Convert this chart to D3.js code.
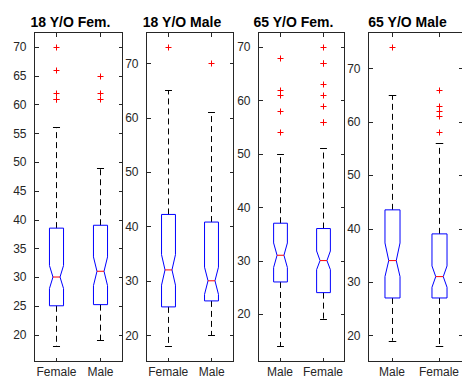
<!DOCTYPE html>
<html>
<head>
<meta charset="utf-8">
<script src="https://cdn.jsdelivr.net/npm/d3@7"></script>
<style>
  html, body { margin: 0; padding: 0; background: #ffffff; }
  svg { display: block; font-family: "Liberation Sans", Arial, Helvetica, sans-serif; }
</style>
</head>
<body>
<svg id="chart" width="462" height="378"></svg>
<script>
// ---------- data ----------
const titles = ["18 Y/O Fem.", "18 Y/O Male", "65 Y/O Fem.", "65 Y/O Male"];
const groupLabels = [["Female", "Male"], ["Female", "Male"], ["Male", "Female"], ["Male", "Female"]];
const whiskerLow  = [[18, 19],     [18, 20],     [14, 19],     [19, 18]];
const q1          = [[25, 25.2],   [25.2, 26.3], [26, 24],     [27, 27]];
const notchLow    = [[28, 28.5],   [29.2, 27.5], [28.7, 28.3], [31, 29]];
const medians     = [[30, 31],     [32, 30],     [31, 30],     [34, 31]];
const notchHigh   = [[32, 33.5],   [34.8, 32.5], [33.3, 31.8], [37.3, 33]];
const q3          = [[38.5, 39],   [42.2, 40.8], [37, 36],     [43.5, 39]];
const whiskerHigh = [[56, 49],     [65, 61],     [50, 51],     [65, 56]];
const outliers = [
  [[61, 61, 62, 66, 70], [61, 62, 65]],
  [[73], [70]],
  [[54, 58, 61, 62, 68], [56, 56, 59, 61, 63, 67, 67, 70]],
  [[74], [58, 61, 62, 63, 66]]
];
const yTicks = [
  [20, 25, 30, 35, 40, 45, 50, 55, 60, 65, 70],
  [20, 30, 40, 50, 60, 70],
  [20, 30, 40, 50, 60, 70],
  [20, 30, 40, 50, 60, 70]
];

// ---------- layout ----------
const panelLeft  = [34, 146, 258, 368];
const panelRight = [122, 233, 344, 462];
const plotTop = 32, plotBottom = 361;
const axisColor = "#262626";

const svg = d3.select("#chart");

titles.forEach((title, p) => {
  const L = panelLeft[p], R = panelRight[p];
  const g = svg.append("g");

  const x = d3.scaleLinear().domain([0.5, 2.5]).range([L, R]);
  const allVals = whiskerLow[p].concat(whiskerHigh[p], outliers[p].flat());
  const lo = d3.min(allVals), hi = d3.max(allVals);
  const pad = (hi - lo) * 0.05;
  const y = d3.scaleLinear().domain([lo - pad, hi + pad]).range([plotBottom, plotTop]);

  // frame
  g.append("rect")
    .attr("x", L + 0.5).attr("y", plotTop + 0.5)
    .attr("width", R - L).attr("height", plotBottom - plotTop)
    .attr("fill", "none").attr("stroke", axisColor).attr("stroke-width", 1)
    .attr("shape-rendering", "crispEdges");

  const styleAxis = sel => {
    sel.select(".domain").remove();
    sel.selectAll("line").attr("stroke", axisColor).attr("shape-rendering", "crispEdges");
    sel.selectAll("text").attr("fill", axisColor).attr("font-size", 12);
  };

  // y axes (left with labels, right without), ticks pointing inward
  g.append("g").attr("transform", `translate(${L + 0.5},0)`)
    .call(d3.axisLeft(y).tickValues(yTicks[p]).tickSize(-4).tickPadding(8).tickFormat(d3.format("d")))
    .call(styleAxis);
  g.append("g").attr("transform", `translate(${R + 0.5},0)`)
    .call(d3.axisRight(y).tickValues(yTicks[p]).tickSize(-4).tickFormat(""))
    .call(styleAxis);

  // x axes (bottom with labels, top without)
  g.append("g").attr("transform", `translate(0,${plotBottom + 0.5})`)
    .call(d3.axisBottom(x).tickValues([1, 2]).tickSize(-4).tickPadding(6)
      .tickFormat((d, i) => groupLabels[p][i]))
    .call(styleAxis);
  g.append("g").attr("transform", `translate(0,${plotTop + 0.5})`)
    .call(d3.axisTop(x).tickValues([1, 2]).tickSize(-4).tickFormat(""))
    .call(styleAxis);

  // title
  g.append("text")
    .attr("x", (L + R) / 2 - 7.5).attr("y", 26.5)
    .attr("text-anchor", "middle")
    .attr("font-size", 14).attr("font-weight", "bold")
    .attr("fill", "#000")
    .text(title);

  // boxes
  const boxW = 0.32 * (x(2) - x(1));
  const hw = boxW / 2, nw = hw / 2;

  [0, 1].forEach(i => {
    const cx = Math.round(x(i + 1)) + 0.5;

    // whiskers (dashed)
    g.append("line")
      .attr("x1", cx).attr("x2", cx)
      .attr("y1", y(q3[p][i])).attr("y2", y(whiskerHigh[p][i]))
      .attr("stroke", "#000").attr("stroke-dasharray", "6,4");
    g.append("line")
      .attr("x1", cx).attr("x2", cx)
      .attr("y1", y(q1[p][i])).attr("y2", y(whiskerLow[p][i]))
      .attr("stroke", "#000").attr("stroke-dasharray", "6,4");
    // caps
    [whiskerHigh[p][i], whiskerLow[p][i]].forEach(v => {
      g.append("line")
        .attr("x1", cx - hw / 2).attr("x2", cx + hw / 2)
        .attr("y1", Math.round(y(v)) + 0.5).attr("y2", Math.round(y(v)) + 0.5)
        .attr("stroke", "#000");
    });

    // notched box
    const yq3 = y(q3[p][i]), yq1 = y(q1[p][i]), ym = y(medians[p][i]);
    const ynh = y(notchHigh[p][i]), ynl = y(notchLow[p][i]);
    const path = d3.path();
    path.moveTo(cx - hw, yq3);
    path.lineTo(cx + hw, yq3);
    path.lineTo(cx + hw, ynh);
    path.lineTo(cx + nw, ym);
    path.lineTo(cx + hw, ynl);
    path.lineTo(cx + hw, yq1);
    path.lineTo(cx - hw, yq1);
    path.lineTo(cx - hw, ynl);
    path.lineTo(cx - nw, ym);
    path.lineTo(cx - hw, ynh);
    path.closePath();
    g.append("path").attr("d", path.toString())
      .attr("fill", "none").attr("stroke", "#0000ff").attr("stroke-width", 1);

    // median
    g.append("line")
      .attr("x1", cx - nw).attr("x2", cx + nw)
      .attr("y1", ym).attr("y2", ym)
      .attr("stroke", "#ff0000").attr("stroke-width", 1);

    // outliers
    outliers[p][i].forEach(v => {
      const oy = Math.round(y(v)) + 0.5;
      g.append("path")
        .attr("d", `M${cx - 3},${oy}H${cx + 3}M${cx},${oy - 3}V${oy + 3}`)
        .attr("stroke", "#ff0000").attr("stroke-width", 1).attr("fill", "none");
    });
  });
});
</script>
</body>
</html>
